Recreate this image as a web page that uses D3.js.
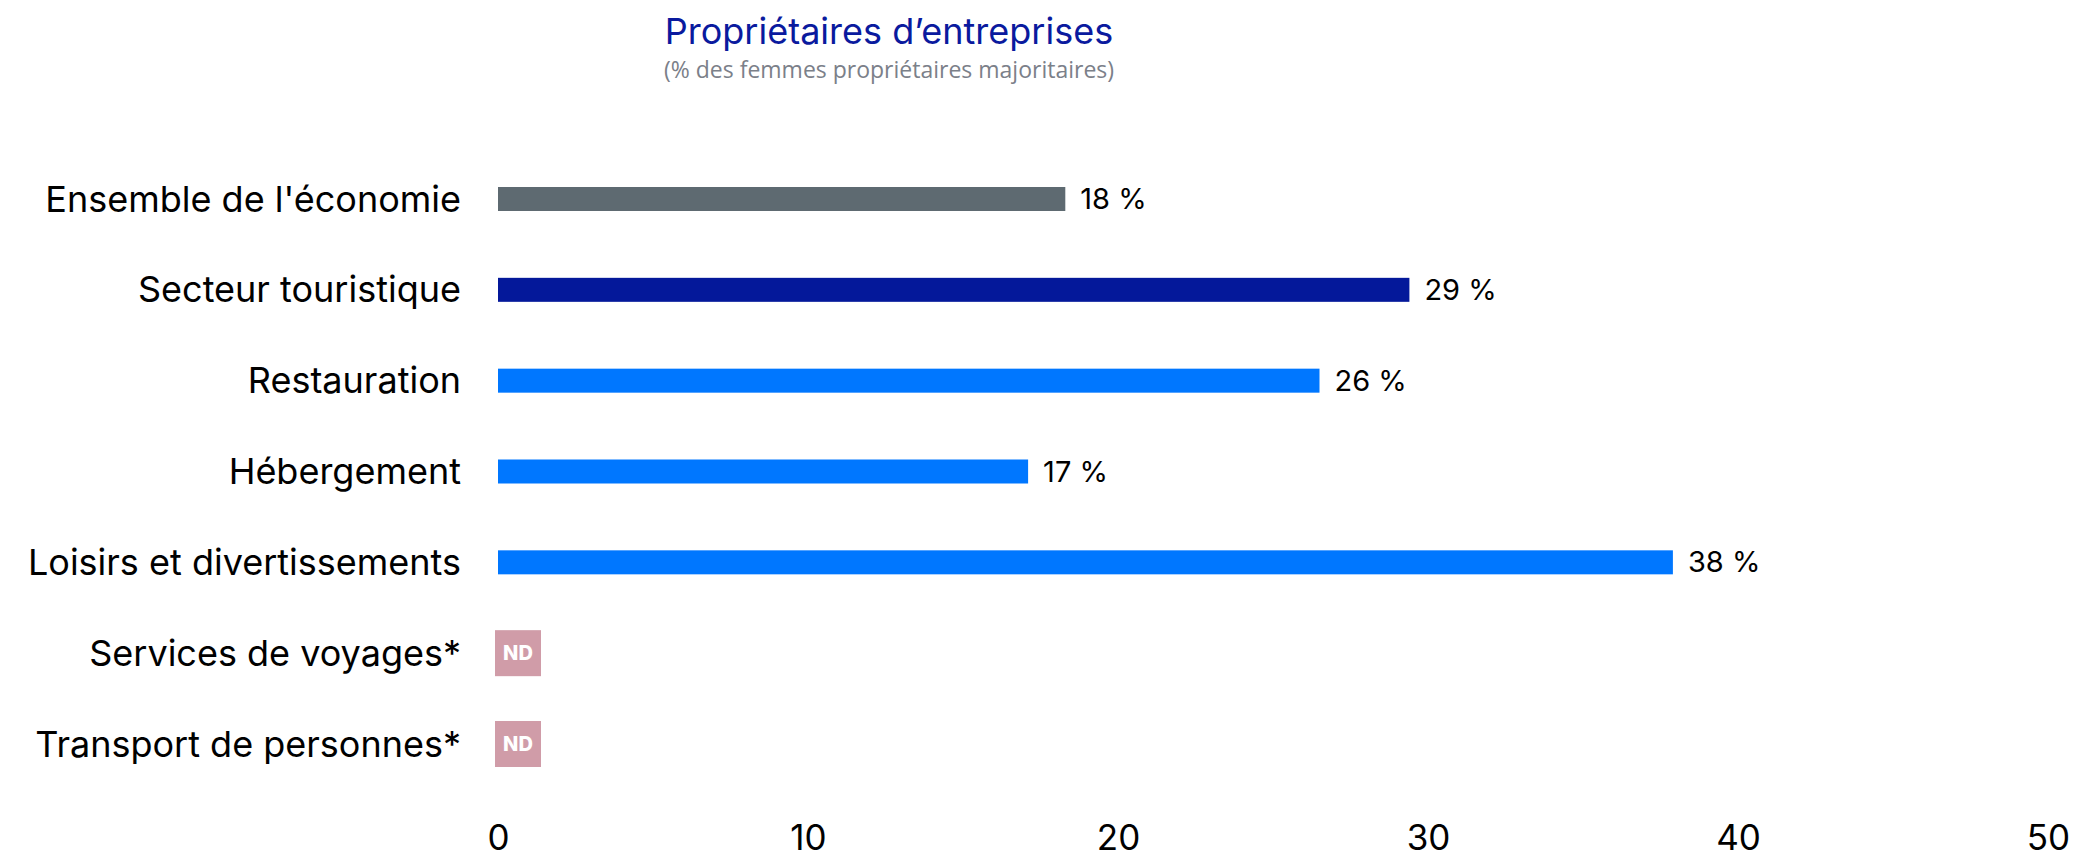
<!DOCTYPE html>
<html>
<head>
<meta charset="utf-8">
<script src="https://cdn.jsdelivr.net/npm/d3@7"></script>
<style>
  body { margin: 0; background: #fff; }
</style>
</head>
<body>
<div id="chart"></div>
<script>

// data
var categories = ["Ensemble de l'économie", "Secteur touristique", "Restauration", "Hébergement",
    "Loisirs et divertissements", "Services de voyages*", "Transport de personnes*"];
var values = [18.3, 29.4, 26.5, 17.1, 37.9, null, null];
var valueLabels = ["18 %", "29 %", "26 %", "17 %", "38 %", "ND", "ND"];
var barColors = ["#5e6a71", "#04189a", "#0077ff", "#0077ff", "#0077ff", "#d09ca8", "#d09ca8"];
var xTicks = [0, 10, 20, 30, 40, 50];

function main() {

    var width = 2083,
        height = 859;

    var svg = d3.select("#chart")
        .append("svg")
        .attr("width", width)
        .attr("height", height);

    // title
    svg.append("text")
        .attr("x", 889)
        .attr("y", 44)
        .attr("text-anchor", "middle")
        .attr("font-family", "Inter, sans-serif")
        .attr("font-size", "36px")
        .attr("fill", "#0a1a9e")
        .text("Propriétaires d’entreprises");

    svg.append("text")
        .attr("x", 889)
        .attr("y", 78)
        .attr("text-anchor", "middle")
        .attr("font-family", "'Open Sans', sans-serif")
        .attr("font-size", "23px")
        .attr("fill", "#7b8089")
        .text("(% des femmes propriétaires majoritaires)");

    // scales
    var x = d3.scaleLinear()
        .domain([0, 50])
        .range([498, 2048]);

    var y = d3.scalePoint()
        .domain(categories)
        .range([199, 744]);

    var barH = 24;

    // x axis, labels only
    var xAxis = svg.append("g")
        .attr("transform", "translate(0,825)")
        .call(d3.axisBottom(x).tickValues(xTicks).tickSize(0).tickPadding(0));
    xAxis.select(".domain").remove();
    xAxis.selectAll("text")
        .attr("font-family", "Inter, sans-serif")
        .attr("font-size", "35px")
        .attr("fill", "#000");

    // category labels
    svg.append("g")
        .selectAll("text")
        .data(categories)
        .join("text")
        .attr("x", 461)
        .attr("y", function (d) { return y(d); })
        .attr("dy", "0.35em")
        .attr("text-anchor", "end")
        .attr("font-family", "Inter, sans-serif")
        .attr("font-size", "36px")
        .attr("fill", "#000")
        .text(function (d) { return d; });

    var rows = categories.map(function (c, i) {
        return {cat: c, value: values[i], label: valueLabels[i], color: barColors[i]};
    });

    // bars
    svg.append("g")
        .selectAll("rect")
        .data(rows.filter(function (d) { return d.value !== null; }))
        .join("rect")
        .attr("x", x(0))
        .attr("y", function (d) { return y(d.cat) - barH / 2; })
        .attr("width", function (d) { return x(d.value) - x(0); })
        .attr("height", barH)
        .attr("fill", function (d) { return d.color; });

    // value labels
    svg.append("g")
        .selectAll("text")
        .data(rows.filter(function (d) { return d.value !== null; }))
        .join("text")
        .attr("x", function (d) { return x(d.value) + 15; })
        .attr("y", function (d) { return y(d.cat); })
        .attr("dy", "0.35em")
        .attr("font-family", "Inter, sans-serif")
        .attr("font-size", "29px")
        .attr("fill", "#000")
        .text(function (d) { return d.label; });

    // ND boxes for missing data
    var nd = rows.filter(function (d) { return d.value === null; });
    var box = 46;
    svg.append("g")
        .selectAll("rect")
        .data(nd)
        .join("rect")
        .attr("x", x(0) - 3)
        .attr("y", function (d) { return y(d.cat) - box / 2; })
        .attr("width", box)
        .attr("height", box)
        .attr("fill", function (d) { return d.color; });

    svg.append("g")
        .selectAll("text")
        .data(nd)
        .join("text")
        .attr("x", x(0) - 3 + box / 2)
        .attr("y", function (d) { return y(d.cat); })
        .attr("dy", "0.36em")
        .attr("text-anchor", "middle")
        .attr("font-family", "Inter, sans-serif")
        .attr("font-weight", "800")
        .attr("font-size", "20px")
        .attr("fill", "#fff")
        .text(function (d) { return d.label; });
}

main()

</script>
</body>
</html>
